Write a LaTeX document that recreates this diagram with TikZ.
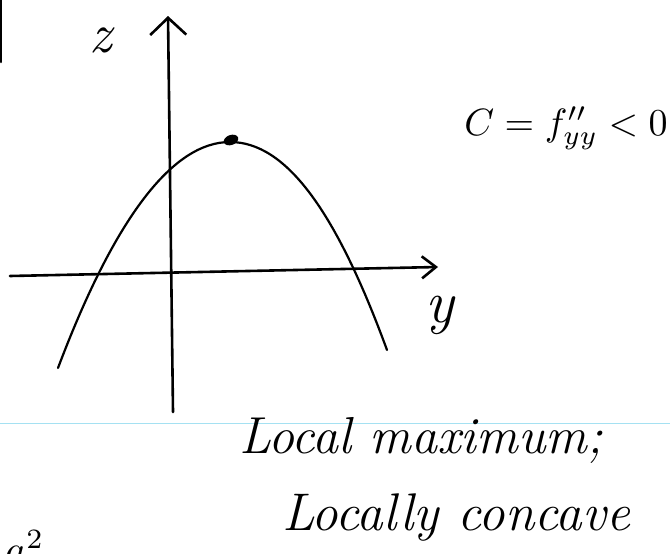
\documentclass[tikz,border=0pt]{standalone}
\usepackage{graphicx}
\usetikzlibrary{arrows.meta,shapes.geometric}
\definecolor{ruleblue}{RGB}{165,225,242}
\tikzset{
  axis/.style={line width=2.6pt, line cap=round},
  curve/.style={line width=2.2pt, line cap=round},
  hand/.style={inner sep=0pt},
}
\begin{document}
\begin{tikzpicture}[x=1pt,y=-1pt]
\useasboundingbox (0,0) rectangle (670,554);
% ruled line of the notebook
\draw[ruleblue, line width=0.8pt] (0,423) -- (670,423);
% edge of the page at left
\coordinate (mtop) at (1,0);
\coordinate (mbot) at (1,62);
\draw[axis] (mtop) -- (mbot);
% axes
\coordinate (zbot) at (173,412);
\coordinate (ztop) at (168,16);
\coordinate (yleft) at (10,276);
\coordinate (yright) at (438,267);
\draw[axis, -{Straight Barb[length=17pt, width=36pt]}] (zbot) -- (ztop);
\draw[axis, -{Straight Barb[length=14pt, width=22pt]}] (yleft) -- (yright);
% the parabola
\coordinate (cl) at (58,368);
\coordinate (cr) at (387,350);
\node[ellipse, fill, inner sep=0pt, minimum width=15pt, minimum height=10pt, rotate=20] (peak) at (231,140) {};
\draw[curve] (cl) .. controls (115,217) and (173,142) .. (230,142)
                  .. controls (286,142) and (336,211) .. (cr);
% labels
\node[hand, font=\fontsize{56}{56}\selectfont\itshape] (zlab) at (101,40) {z};
\node[hand, font=\fontsize{60}{60}\selectfont\itshape] (ylab) at (440,315) {y};
\node[hand] (cond) at (566,128) {\scalebox{3.8}{$C=f''_{yy}<0$}};
\node[hand, font=\fontsize{52}{52}\selectfont\itshape] (line1) at (421,440) {Local maximum;};
\node[hand, font=\fontsize{53}{53}\selectfont\itshape] (line2) at (456,518) {Locally concave};
\node[hand, anchor=base west] (sq) at (5,563) {\scalebox{4}{$a^2$}};
\end{tikzpicture}
\end{document}
